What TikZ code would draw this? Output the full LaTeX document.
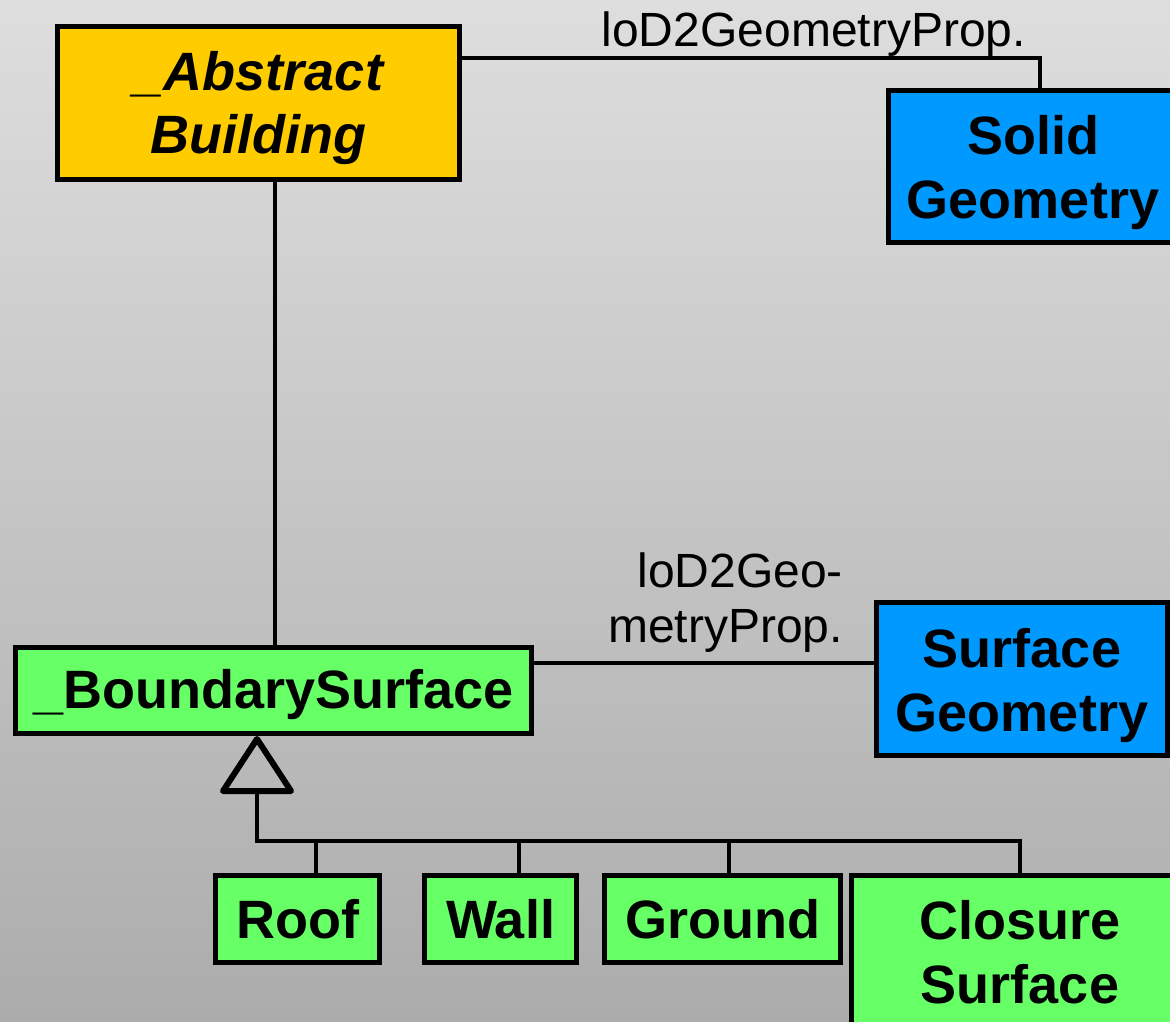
\documentclass[tikz,border=0pt]{standalone}
\usepackage{fontspec}
\setmainfont{Liberation Sans}
\definecolor{abstractfill}{HTML}{FFCC00}
\definecolor{geomfill}{HTML}{0099FF}
\definecolor{surffill}{HTML}{66FF66}
\definecolor{bgtop}{HTML}{DEDEDE}
\definecolor{bgbottom}{HTML}{ACACAC}
% invisible strut that lowers a centred text block inside its box
\newcommand{\lift}[1]{\rule{0pt}{#1}}
\tikzset{
  classbox/.style={draw=black, line width=5pt, inner sep=0pt, outer sep=0pt,
    align=center, font=\bfseries\fontsize{54}{64}\selectfont},
  abstractbox/.style={classbox, fill=abstractfill, font=\bfseries\itshape\fontsize{54}{63}\selectfont},
  geombox/.style={classbox, fill=geomfill},
  surfbox/.style={classbox, fill=surffill},
  conn/.style={draw=black, line width=4pt},
  rolelabel/.style={inner sep=0pt, font=\fontsize{48}{55}\selectfont, align=right}
}
\begin{document}
\begin{tikzpicture}[x=1pt, y=-1pt]
  % canvas with a soft vertical gradient
  \useasboundingbox (0,0) rectangle (1170,1022);
  \clip (0,0) rectangle (1170,1022);
  \shade[top color=bgtop, bottom color=bgbottom] (0,0) rectangle (1170,1022);

  % classes
  \node[abstractbox, minimum width=402pt, minimum height=152pt] (ab) at (258.5,103) {\lift{49pt}\_Abstract\\Building};
  \node[geombox, minimum width=289pt, minimum height=152pt] (solid) at (1033,166.5) {\lift{52pt}Solid\\Geometry};
  \node[surfbox, minimum width=516pt, minimum height=86pt] (bs) at (273.5,690.5) {\lift{48pt}\_BoundarySurface};
  \node[geombox, minimum width=291pt, minimum height=153pt] (surf) at (1022,679) {\lift{53pt}Surface\\Geometry};
  \node[surfbox, minimum width=164pt, minimum height=87pt] (roof) at (297.5,919) {Roof};
  \node[surfbox, minimum width=152pt, minimum height=87pt] (wall) at (500.5,919) {Wall};
  \node[surfbox, minimum width=236pt, minimum height=87pt] (ground) at (722.5,919) {Ground};
  \node[surfbox, minimum width=337pt, minimum height=154pt] (closure) at (1020,952.5) {Closure\\Surface};

  % role names
  \node[rolelabel, anchor=base east] (lblsolid) at (1026,47) {loD2GeometryProp.};
  \node[rolelabel, anchor=north east] (lblsurf) at (843,553) {loD2Geo-\\metryProp.};

  % associations
  \coordinate (bend) at (1040,58);
  \draw[conn] (ab.east |- bend) -- (bend) -- (bend |- solid.north);
  \draw[conn] (ab.south -| 275,0) -- (bs.north -| 275,0);
  \draw[conn] (bs.east |- 0,663) -- (surf.west |- 0,663);

  % generalization: subclasses joined on a common bus
  \coordinate (hub) at (257,841);
  \coordinate (tribase) at (257,791);
  \draw[conn] (tribase) -- (hub) -| (closure.north);
  \draw[conn] ([xshift=18.5]roof.north) -- ([xshift=18.5]roof.north |- hub);
  \draw[conn] ([xshift=18]wall.north) -- ([xshift=18]wall.north |- hub);
  \draw[conn] ([xshift=6.5]ground.north) -- ([xshift=6.5]ground.north |- hub);
  \draw[line width=6pt, line join=round] (tribase) -- (223,791) -- (257,739) -- (291,791) -- cycle;
\end{tikzpicture}
\end{document}
